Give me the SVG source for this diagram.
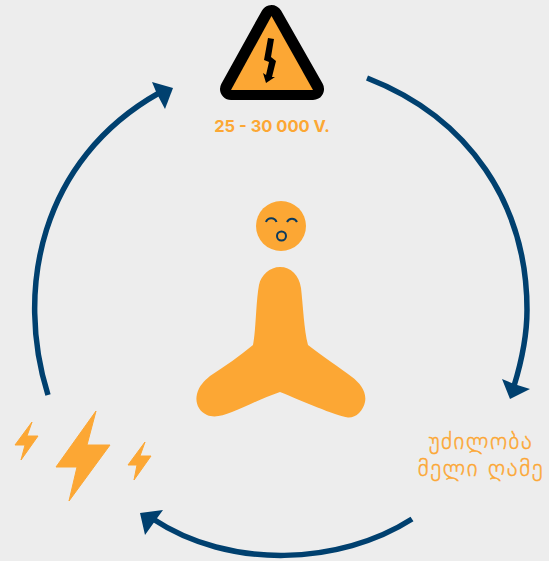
<svg xmlns="http://www.w3.org/2000/svg" width="549" height="561" viewBox="0 0 549 561">
<defs>
<style>
.arc{fill:none;stroke:#00406f;stroke-width:5.500}
.head{fill:#00406f}
.o{fill:#fca734}
.face{fill:none;stroke:#0b3a5e;stroke-width:2}
.geo{font-family:"DejaVu Sans",sans-serif;font-size:23px;letter-spacing:1.600px;font-weight:200;fill:#fca734;stroke:#fca734;stroke-width:.45;text-anchor:middle}
</style>
</defs>
<rect width="549" height="561" fill="#ededed"/>
<g id="connectors">
<path class="arc" d="M367 78C470 118 527 205 527 310C527 333 522 360 514 386"/>
<path class="head" d="M510 399L502 379L514 384L530 389Z"/>
<path class="arc" d="M412 519C340 565 230 570 153 519"/>
<path class="head" d="M140 513L163 510L155 521L145 535Z"/>
<path class="arc" d="M48 395C15 290 40 160 159 93"/>
<path class="head" d="M173 88L152 82L157 94L165 109Z"/>
</g>
<g id="warning">
<path d="M271.500 16L313 89H231Z" fill="#000" stroke="#000" stroke-width="22" stroke-linejoin="round"/>
<path d="M271.500 16L313 90H231Z" fill="#fca734"/>
<path d="M268 38L274 39L271 57L276 61L272 77L275 77L266 83L263 73L266 75L269 62L264 60Z" fill="#000"/>
<text x="272" y="132" font-family="Inter,sans-serif" font-size="16.500" font-weight="700" fill="#fca734" text-anchor="middle">25 - 30 000 V.</text>
</g>
<g id="insomnia">
<text class="geo" x="481" y="449">უძილობა</text>
<text class="geo" x="481" y="476">მელი ღამე</text>
</g>
<g id="lightning">
<path class="o" d="M32 422L27 436H38L21 460L25 445H15Z" stroke="#fca734" stroke-linejoin="round"/>
<path class="o" d="M96 411L87 445H110L69 501L77 467H56Z" stroke="#fca734" stroke-linejoin="round"/>
<path class="o" d="M145 442L140 456H151L134 480L137 465H128Z" stroke="#fca734" stroke-linejoin="round"/>
</g>
<g id="person">
<circle class="o" cx="281" cy="226" r="25"/>
<path class="face" d="M266 222A5.500 5.500 0 0 1 276.500 222M287 222A5.500 5.500 0 0 1 297 222"/>
<circle cx="281.500" cy="236" r="4.500" fill="none" stroke="#0b3a5e" stroke-width="2"/>
<path class="o" d="M259 285C261 275 270 267 280 267C291 267 299 275 301 288C303 305 304 330 308 345C325 358 340 368 352 377C360 383 367 392 365 402C363 411 356 418 348 417.500C336 416 300 400 280 392C262 398 245 407 232 412C222 416 214 418 207 415C198 411 195 402 197 394C199 386 204 381 210 376C225 366 240 356 253 345C256 330 256 300 259 285Z"/>
</g>
</svg>
